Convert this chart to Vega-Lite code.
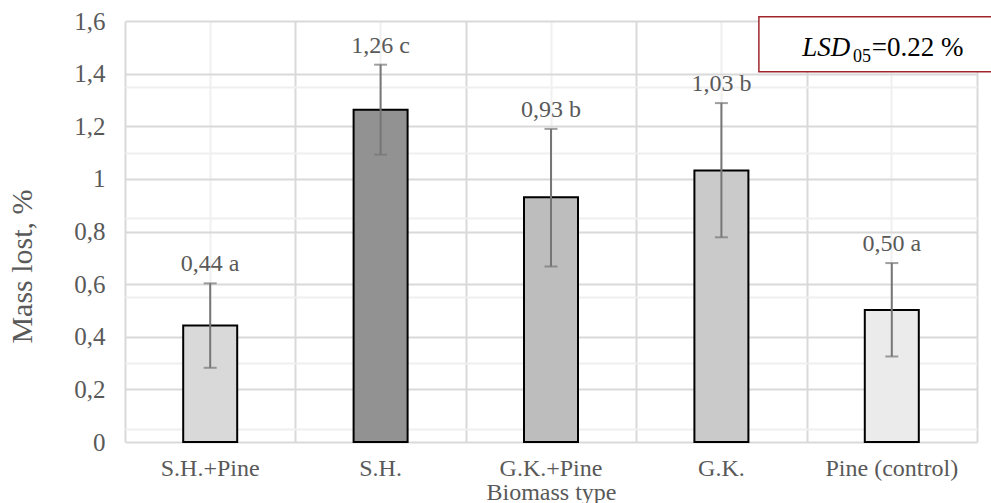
{
  "$schema": "https://vega.github.io/schema/vega-lite/v6.json",
  "width": 852,
  "height": 421,
  "autosize": {"type": "none"},
  "padding": {"left": 125, "top": 21, "right": 14, "bottom": 61},
  "background": "white",
  "config": {"view": {"stroke": null}, "font": "Liberation Serif", "text": {"font": "Liberation Serif"}},
  "datasets": {
    "bars": [
      {"cat": "S.H.+Pine", "value": 0.443, "lo": 0.282, "hi": 0.603, "label": "0,44 a"},
      {"cat": "S.H.", "value": 1.263, "lo": 1.092, "hi": 1.434, "label": "1,26 c"},
      {"cat": "G.K.+Pine", "value": 0.93, "lo": 0.667, "hi": 1.19, "label": "0,93 b"},
      {"cat": "G.K.", "value": 1.032, "lo": 0.778, "hi": 1.288, "label": "1,03 b"},
      {"cat": "Pine (control)", "value": 0.502, "lo": 0.325, "hi": 0.68, "label": "0,50 a"}
    ]
  },
  "layer": [
    {
      "data": {"values": [{}]},
      "layer": [
        {
          "mark": {"type": "rect", "fill": "white", "stroke": "#a0262c", "strokeWidth": 1.5, "clip": false},
          "encoding": {
            "x": {"datum": 3.72, "type": "quantitative", "scale": {"domain": [0, 5], "nice": false, "zero": false},
                  "axis": {"orient": "top", "values": [0, 1, 2, 3, 4, 5], "labels": false, "ticks": false, "domain": false, "title": null, "grid": true, "gridColor": "#d9d9d9", "gridWidth": 2}},
            "x2": {"datum": 5.15},
            "y": {"datum": 1.6165, "type": "quantitative", "scale": {"domain": [0, 1.6], "nice": false},
                  "axis": {"orient": "left", "values": [0.05, 0.1, 0.15, 0.25, 0.3, 0.35, 0.45, 0.5, 0.55, 0.65, 0.7, 0.75, 0.85, 0.9, 0.95, 1.05, 1.1, 1.15, 1.25, 1.3, 1.35, 1.45, 1.5, 1.55],
                           "labels": false, "ticks": false, "domain": false, "title": null, "grid": true, "gridColor": "#efefef", "gridWidth": 2}},
            "y2": {"datum": 1.4075}
          }
        },
        {
          "mark": {"type": "text", "text": "LSD", "font": "Liberation Serif", "fontStyle": "italic", "fontSize": 27, "align": "left", "baseline": "alphabetic", "color": "#000000"},
          "encoding": {"x": {"datum": 3.975, "type": "quantitative"}, "y": {"datum": 1.466, "type": "quantitative"}}
        },
        {
          "mark": {"type": "text", "text": "05", "font": "Liberation Serif", "fontSize": 18, "align": "left", "baseline": "alphabetic", "color": "#000000"},
          "encoding": {"x": {"datum": 4.272, "type": "quantitative"}, "y": {"datum": 1.446, "type": "quantitative"}}
        },
        {
          "mark": {"type": "text", "text": "=0.22 %", "font": "Liberation Serif", "fontSize": 27, "align": "left", "baseline": "alphabetic", "color": "#000000"},
          "encoding": {"x": {"datum": 4.382, "type": "quantitative"}, "y": {"datum": 1.466, "type": "quantitative"}}
        }
      ]
    },
    {
      "data": {"name": "bars"},
      "encoding": {
        "x": {"field": "cat", "type": "nominal", "sort": null,
              "scale": {"paddingInner": 0, "paddingOuter": 0},
              "axis": {"labelAngle": 0, "labelFont": "Liberation Serif", "labelFontSize": 24, "labelColor": "#595959", "labelPadding": 14, "ticks": false, "domain": false,
                       "grid": true, "gridColor": "#f0f0f0", "gridWidth": 2,
                       "title": "Biomass type", "titleFont": "Liberation Serif", "titleFontSize": 24, "titleColor": "#595959", "titleFontWeight": "normal", "titlePadding": 0}}
      },
      "layer": [
        {
          "mark": {"type": "bar", "size": 54, "stroke": "#000000", "strokeWidth": 2},
          "encoding": {
            "y": {"field": "value", "type": "quantitative", "scale": {"domain": [0, 1.6], "nice": false},
                  "axis": {"orient": "left", "values": [0, 0.2, 0.4, 0.6, 0.8, 1, 1.2, 1.4, 1.6],
                           "labelExpr": "replace(toString(datum.value), '.', ',')",
                           "labelFont": "Liberation Serif", "labelFontSize": 25, "labelColor": "#595959", "labelPadding": 20, "ticks": false, "domain": false,
                           "grid": true, "gridColor": "#d9d9d9", "gridWidth": 2,
                           "title": "Mass lost, %", "titleFont": "Liberation Serif", "titleFontSize": 30, "titleColor": "#595959", "titleFontWeight": "normal", "titlePadding": 36, "titleY": 245}},
            "fill": {"field": "cat", "type": "nominal", "legend": null,
                     "scale": {"domain": ["S.H.+Pine", "S.H.", "G.K.+Pine", "G.K.", "Pine (control)"],
                               "range": ["#d9d9d9", "#929292", "#bdbdbd", "#cacaca", "#ebebeb"]}}
          }
        },
        {
          "mark": {"type": "rule", "color": "#767676", "strokeWidth": 2},
          "encoding": {"y": {"field": "lo", "type": "quantitative"}, "y2": {"field": "hi"}}
        },
        {
          "mark": {"type": "tick", "color": "#767676", "size": 13, "thickness": 2},
          "encoding": {"y": {"field": "lo", "type": "quantitative"}}
        },
        {
          "mark": {"type": "tick", "color": "#767676", "size": 13, "thickness": 2},
          "encoding": {"y": {"field": "hi", "type": "quantitative"}}
        },
        {
          "mark": {"type": "text", "font": "Liberation Serif", "fontSize": 24, "color": "#595959", "baseline": "alphabetic", "dy": -12},
          "encoding": {"y": {"field": "hi", "type": "quantitative"}, "text": {"field": "label"}}
        }
      ]
    }
  ],
  "resolve": {"scale": {"x": "independent"}, "axis": {"x": "independent", "y": "independent"}}
}
